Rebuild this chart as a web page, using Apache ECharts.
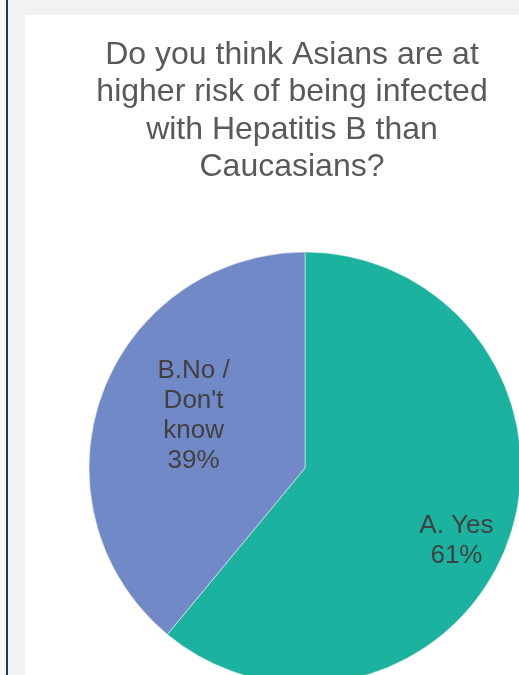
<!DOCTYPE html>
<html>
<head>
<meta charset="utf-8">
<script src="https://cdn.jsdelivr.net/npm/echarts@6/dist/echarts.min.js"></script>
<style>
html,body{margin:0;padding:0;background:#f2f2f2;}
#c{width:519px;height:675px;}
</style>
</head>
<body>
<div id="c"></div>
<script>
const titleText = "Do you think Asians are at\nhigher risk of being infected\nwith Hepatitis B than\nCaucasians?";
const categories = ["A. Yes", "B.No /\nDon't\nknow"];
const values = [61, 39];
const colors = ["#1bb39f", "#7289c7"];
const labelShift = [[47, 35], [-7, -15]];

const chart = echarts.init(document.getElementById('c'), null, {renderer: 'canvas'});
chart.setOption({
  backgroundColor: '#f2f2f2',
  animation: false,
  graphic: [
    {type: 'rect', shape: {x: 0, y: 0, width: 6, height: 675}, style: {fill: '#fafafa'}, z: -10},
    {type: 'rect', shape: {x: 6, y: 0, width: 2, height: 675}, style: {fill: '#1f3a6a'}, z: -10},
    {type: 'rect', shape: {x: 25, y: 15, width: 494, height: 660}, style: {fill: '#ffffff'}, z: -10}
  ],
  title: {
    text: titleText,
    left: 287,
    top: 31,
    textAlign: 'center',
    textStyle: {
      fontFamily: 'Liberation Sans, Arial, sans-serif',
      fontSize: 32,
      fontWeight: 'normal',
      color: '#595959',
      lineHeight: 37.5
    }
  },
  series: [{
    type: 'pie',
    center: [305, 468],
    radius: 216,
    startAngle: 90,
    clockwise: true,
    avoidLabelOverlap: false,
    itemStyle: {borderColor: '#ffffff', borderWidth: 0.5},
    label: {
      show: true,
      position: 'inside',
      formatter: p => p.name + '\n' + p.value + '%',
      fontFamily: 'Liberation Sans, Arial, sans-serif',
      fontSize: 26,
      lineHeight: 30,
      color: '#404040',
      align: 'center'
    },
    labelLine: {show: false},
    emphasis: {disabled: true},
    labelLayout: p => ({dx: labelShift[p.dataIndex][0], dy: labelShift[p.dataIndex][1]}),
    data: categories.map((n, i) => ({name: n, value: values[i], itemStyle: {color: colors[i]}}))
  }]
});
</script>
</body>
</html>
